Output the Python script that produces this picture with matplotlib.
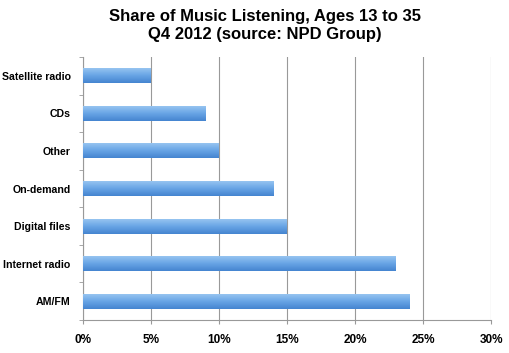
import matplotlib
matplotlib.use("Agg")
import matplotlib.pyplot as plt
import numpy as np
from matplotlib.colors import LinearSegmentedColormap

categorias = ["Satellite radio", "CDs", "Other", "On-demand",
              "Digital files", "Internet radio", "AM/FM"]
valores = [5, 9, 10, 14, 15, 23, 24]
ticks_x = [0, 5, 10, 15, 20, 25, 30]

plt.rcParams["font.family"] = ["Liberation Sans", "DejaVu Sans"]

fig = plt.figure(figsize=(5.1, 3.53), dpi=100)
ax = fig.add_axes([0.163, 0.0935, 0.8, 0.745])

y = np.arange(len(categorias))
barras = ax.barh(y, valores, height=0.4, color="#6aa6e4", edgecolor="none",
                 zorder=3)

ax.set_ylim(len(categorias) - 0.5, -0.5)
ax.set_xlim(0, 30)

# degradado vertical en cada barra (claro arriba, oscuro abajo)
cmap = LinearSegmentedColormap.from_list("azul", ["#9cc8f2", "#6aa6e6", "#4585d0"])
grad = np.linspace(0, 1, 64).reshape(-1, 1)
for b in barras:
    x0, y0 = b.get_x(), b.get_y()
    w, h = b.get_width(), b.get_height()
    im = ax.imshow(grad, cmap=cmap, aspect="auto", zorder=4,
                   extent=(x0, x0 + w, y0 + h, y0), origin="upper")
    im.set_clip_path(b)
ax.set_ylim(len(categorias) - 0.5, -0.5)
ax.set_xlim(0, 30)

ax.set_yticks(y)
ax.set_yticklabels(categorias, fontsize=7.6, fontweight="bold")
ax.set_yticks(np.arange(len(categorias) + 1) - 0.5, minor=True)
ax.tick_params(axis="y", which="major", length=0, pad=9)
ax.tick_params(axis="y", which="minor", length=3, color="#999999")
ax.set_xticks(ticks_x)
ax.set_xticklabels([f"{t}%" for t in ticks_x], fontsize=8.5, fontweight="bold")
ax.tick_params(axis="x", length=3, color="#999999", pad=7)

ax.grid(axis="x", color="#999999", linewidth=0.8, zorder=0)
for s in ["top", "right"]:
    ax.spines[s].set_visible(False)
for s in ["left", "bottom"]:
    ax.spines[s].set_color("#999999")

fig.suptitle("Share of Music Listening, Ages 13 to 35\nQ4 2012 (source: NPD Group)",
             fontsize=12, fontweight="bold", y=0.975, x=0.52, linespacing=1.3)

fig.savefig("out.png", dpi=100)
